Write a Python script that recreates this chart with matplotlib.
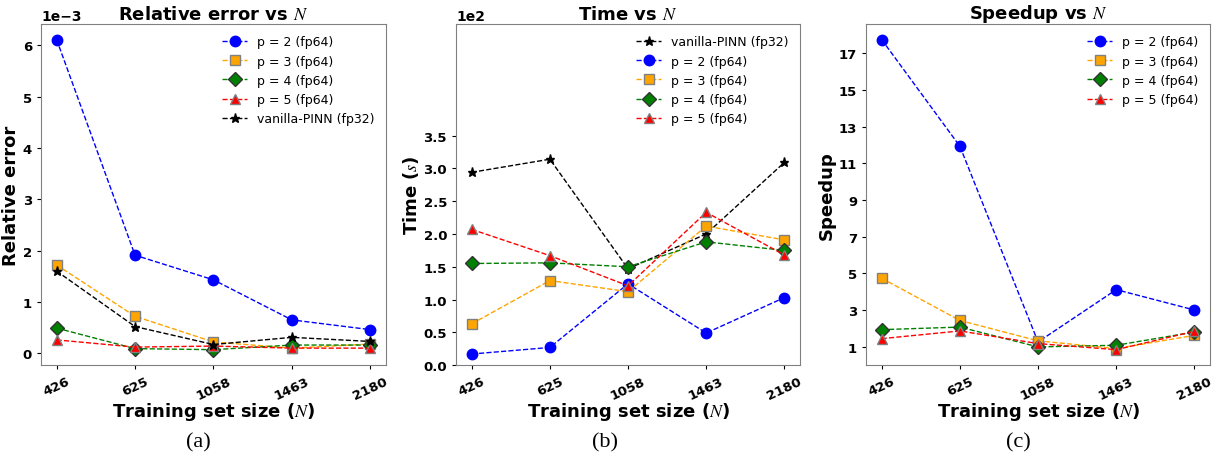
import numpy as np
import matplotlib
matplotlib.use("Agg")
import matplotlib.pyplot as plt

plt.rcParams['mathtext.fontset'] = 'stix'

# training set sizes
N = ['426', '625', '1058', '1463', '2180']

# relative error
err_p2 = [6.11e-3, 1.91e-3, 1.43e-3, 0.65e-3, 0.46e-3]
err_p3 = [1.72e-3, 0.72e-3, 0.22e-3, 0.10e-3, 0.18e-3]
err_p4 = [0.49e-3, 0.09e-3, 0.07e-3, 0.16e-3, 0.16e-3]
err_p5 = [0.26e-3, 0.12e-3, 0.14e-3, 0.10e-3, 0.10e-3]
err_van = [1.60e-3, 0.52e-3, 0.17e-3, 0.31e-3, 0.23e-3]

# training time (s)
time_van = [294, 314, 147, 200, 309]
time_p2 = [17, 27, 124, 49, 103]
time_p3 = [63, 129, 112, 212, 191]
time_p4 = [155, 156, 150, 188, 175]
time_p5 = [207, 167, 121, 233, 168]

# speedup
sp_p2 = [17.74, 11.93, 1.27, 4.12, 3.01]
sp_p3 = [4.74, 2.44, 1.33, 0.91, 1.63]
sp_p4 = [1.94, 2.08, 1.00, 1.09, 1.81]
sp_p5 = [1.45, 1.87, 1.18, 0.85, 1.85]

x = np.arange(len(N))

sty = {
    'p2': dict(color='blue', marker='o', mfc='blue', mec='blue', ms=7.5, label='p = 2 (fp64)'),
    'p3': dict(color='orange', marker='s', mfc='orange', mec='gray', ms=7.5, label='p = 3 (fp64)'),
    'p4': dict(color='green', marker='D', mfc='green', mec='#333333', ms=7, label='p = 4 (fp64)'),
    'p5': dict(color='red', marker='^', mfc='red', mec='gray', ms=7.5, label='p = 5 (fp64)'),
    'van': dict(color='black', marker='*', mfc='black', mec='black', ms=6.5, label='vanilla-PINN (fp32)'),
}

def curve(ax, y, key):
    ax.plot(x, y, linestyle='--', lw=1, **sty[key])

def style_axes(ax, title, ylabel):
    ax.set_title(title, fontsize=13, fontweight='bold', pad=4)
    ax.set_ylabel(ylabel, fontsize=13, fontweight='bold', labelpad=2)
    ax.set_xlabel(r'Training set size ($N$)', fontsize=13, fontweight='bold', labelpad=-1)
    ax.set_xticks(x)
    ax.set_xticklabels(N, rotation=25, fontsize=9.5, fontweight='bold')
    for t in ax.get_yticklabels():
        t.set_fontsize(9.5)
        t.set_fontweight('bold')
    for s in ax.spines.values():
        s.set_color('gray')
    ax.tick_params(colors='black', length=3)
    ax.legend(frameon=False, fontsize=9, loc='upper right')

fig = plt.figure(figsize=(12.26, 4.56), dpi=100)
ax1 = fig.add_axes([0.0334, 0.197, 0.2814, 0.748])
ax2 = fig.add_axes([0.372, 0.197, 0.2805, 0.748])
ax3 = fig.add_axes([0.7064, 0.197, 0.2806, 0.748])

# (a) relative error
curve(ax1, err_p2, 'p2')
curve(ax1, err_p3, 'p3')
curve(ax1, err_p4, 'p4')
curve(ax1, err_p5, 'p5')
curve(ax1, err_van, 'van')
ax1.ticklabel_format(axis='y', style='sci', scilimits=(0, 0))
style_axes(ax1, r'Relative error vs $N$', 'Relative error')
ax1.yaxis.get_offset_text().set_fontsize(10)
ax1.yaxis.get_offset_text().set_fontweight('bold')

# (b) time
curve(ax2, time_van, 'van')
curve(ax2, time_p2, 'p2')
curve(ax2, time_p3, 'p3')
curve(ax2, time_p4, 'p4')
curve(ax2, time_p5, 'p5')
ax2.set_ylim(0, 520)
ax2.set_yticks(np.arange(0, 351, 50))
ax2.ticklabel_format(axis='y', style='sci', scilimits=(0, 0))
style_axes(ax2, r'Time vs $N$', r'Time ($s$)')
ax2.yaxis.get_offset_text().set_fontsize(10)
ax2.yaxis.get_offset_text().set_fontweight('bold')

# (c) speedup
curve(ax3, sp_p2, 'p2')
curve(ax3, sp_p3, 'p3')
curve(ax3, sp_p4, 'p4')
curve(ax3, sp_p5, 'p5')
ax3.set_yticks(np.arange(1, 18, 2))
style_axes(ax3, r'Speedup vs $N$', 'Speedup')

for xc, lab in [(0.1615, '(a)'), (0.4935, '(b)'), (0.8305, '(c)')]:
    fig.text(xc, 0.028, lab, ha='center', va='center', fontsize=16, family='Liberation Serif')

fig.savefig('out.png', dpi=100)
